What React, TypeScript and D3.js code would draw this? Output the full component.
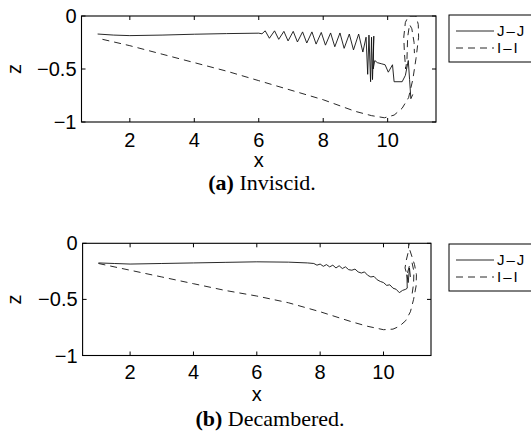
import React from "react";
import * as d3 from "d3";

type Pt = [number, number];

const xTicks = [2, 4, 6, 8, 10];
const yTicks = [0, -0.5, -1];
const yTickLabels = ["0", "−0.5", "−1"];
const seriesNames = ["J–J", "I–I"];
const xDomain: [number, number] = [0.5, 11.5];
const yDomain: [number, number] = [-1, 0];

const inviscidJJ: Pt[] = [
  [1.0, -0.17], [1.5, -0.18], [2.0, -0.185], [3.0, -0.18], [4.0, -0.172], [5.0, -0.166], [6.0, -0.162],
  [6.1, -0.168], [6.2, -0.14], [6.33, -0.21], [6.49, -0.14], [6.62, -0.22], [6.78, -0.145], [6.91, -0.235],
  [7.07, -0.145], [7.2, -0.245], [7.36, -0.15], [7.49, -0.255], [7.65, -0.15], [7.78, -0.265], [7.94, -0.155],
  [8.07, -0.275], [8.23, -0.16], [8.36, -0.29], [8.52, -0.16], [8.65, -0.305], [8.81, -0.17], [8.94, -0.32],
  [9.1, -0.17], [9.23, -0.34], [9.33, -0.2], [9.38, -0.55], [9.42, -0.18], [9.47, -0.62], [9.5, -0.2],
  [9.53, -0.6], [9.57, -0.19], [9.55, -0.5], [9.6, -0.42], [9.68, -0.44], [9.8, -0.45], [9.92, -0.46],
  [10.02, -0.53], [10.15, -0.46], [10.2, -0.62], [10.45, -0.62], [10.55, -0.56], [10.64, -0.42],
  [10.68, -0.6], [10.72, -0.78], [10.78, -0.74],
];

const inviscidII: Pt[] = [
  [1.15, -0.22], [2, -0.28], [3, -0.36], [4, -0.44], [5, -0.52], [6, -0.61], [7, -0.7], [8, -0.79],
  [9, -0.9], [9.5, -0.94], [9.9, -0.96], [10.2, -0.935], [10.45, -0.87], [10.65, -0.77], [10.78, -0.6],
  [10.88, -0.4], [10.96, -0.2], [10.95, -0.08], [10.88, 0.0], [10.65, 0.0], [10.55, -0.06], [10.5, -0.2],
  [10.52, -0.35], [10.56, -0.5], [10.6, -0.4], [10.62, -0.2], [10.68, -0.08], [10.75, -0.12],
  [10.82, -0.25], [10.83, -0.35],
];

const decamberedJJ: Pt[] = [
  [1.0, -0.175], [1.5, -0.18], [2.0, -0.185], [3.0, -0.18], [4.0, -0.175], [5.0, -0.17], [6.0, -0.165],
  [7.0, -0.168], [7.6, -0.175], [7.8, -0.18], [7.9, -0.195], [8.0, -0.185], [8.1, -0.205], [8.2, -0.19],
  [8.3, -0.21], [8.4, -0.195], [8.5, -0.22], [8.6, -0.2], [8.7, -0.225], [8.8, -0.21], [8.9, -0.235],
  [9.0, -0.24], [9.1, -0.23], [9.2, -0.255], [9.3, -0.265], [9.4, -0.255], [9.5, -0.285], [9.6, -0.3],
  [9.7, -0.295], [9.8, -0.325], [9.9, -0.34], [10.0, -0.35], [10.1, -0.375], [10.2, -0.37], [10.3, -0.4],
  [10.4, -0.41], [10.5, -0.44], [10.6, -0.42], [10.7, -0.41], [10.75, -0.4], [10.74, -0.28],
  [10.78, -0.35], [10.82, -0.22], [10.85, -0.3],
];

const decamberedII: Pt[] = [
  [1.0, -0.18], [2, -0.24], [3, -0.3], [4, -0.36], [5, -0.42], [6, -0.47], [7, -0.53], [8, -0.61],
  [9, -0.7], [9.5, -0.74], [10, -0.77], [10.3, -0.765], [10.5, -0.74], [10.7, -0.69], [10.85, -0.61],
  [10.95, -0.5], [11.03, -0.38], [11.04, -0.28], [10.98, -0.19], [10.9, -0.12], [10.82, -0.05],
  [10.8, 0.0], [10.78, -0.08], [10.72, -0.15], [10.68, -0.22], [10.74, -0.28], [10.82, -0.2],
  [10.9, -0.17], [10.96, -0.25], [10.95, -0.36], [10.9, -0.46],
];

const SANS = "'Liberation Sans', Arial, Helvetica, sans-serif";
const SERIF = "'Liberation Serif', 'Times New Roman', serif";

type PanelProps = {
  id: string;
  left: number; right: number; top: number; bottom: number;
  jj: Pt[]; ii: Pt[];
  legendY: number;
  xLabelY: number;
  tickLabelY: number;
  captionY: number; captionX: number;
  captionBold: string; captionText: string;
};

function Panel(p: PanelProps) {
  const x = d3.scaleLinear().domain(xDomain).range([p.left, p.right]);
  const y = d3.scaleLinear().domain(yDomain).range([p.bottom, p.top]);
  const line = d3.line<Pt>().x((d) => x(d[0])).y((d) => y(d[1]));
  const tl = 4;
  const lx = 449;
  const lh = 47;
  return (
    <g>
      <defs>
        <clipPath id={p.id}>
          <rect x={p.left} y={p.top} width={p.right - p.left} height={p.bottom - p.top} />
        </clipPath>
      </defs>
      <g clipPath={`url(#${p.id})`}>
        <path d={line(p.jj) || ""} fill="none" stroke="#111" strokeWidth={0.9} />
        <path d={line(p.ii) || ""} fill="none" stroke="#111" strokeWidth={0.9} strokeDasharray="7 5" />
      </g>
      <rect x={p.left} y={p.top} width={p.right - p.left} height={p.bottom - p.top} fill="none" stroke="#000" strokeWidth={1.1} />
      {xTicks.map((t) => (
        <g key={"x" + t}>
          <line x1={x(t)} x2={x(t)} y1={p.bottom} y2={p.bottom - tl} stroke="#000" />
          <line x1={x(t)} x2={x(t)} y1={p.top} y2={p.top + tl} stroke="#000" />
          <text x={x(t)} y={p.tickLabelY} textAnchor="middle" fontFamily={SANS} fontSize={20}>{t}</text>
        </g>
      ))}
      {yTicks.map((t, i) => (
        <g key={"y" + t}>
          <line x1={p.left} x2={p.left + tl} y1={y(t)} y2={y(t)} stroke="#000" />
          <line x1={p.right} x2={p.right - tl} y1={y(t)} y2={y(t)} stroke="#000" />
          <text x={p.left - 5} y={y(t) + 7} textAnchor="end" fontFamily={SANS} fontSize={20}>{yTickLabels[i]}</text>
        </g>
      ))}
      <text x={(p.left + p.right) / 2} y={p.xLabelY} textAnchor="middle" fontFamily={SANS} fontSize={20}>x</text>
      <text transform={`translate(${21},${y(-0.5)}) rotate(-90)`} textAnchor="middle" fontFamily={SANS} fontSize={20}>z</text>
      <text x={p.captionX} y={p.captionY} textAnchor="middle" fontFamily={SERIF} fontSize={22}>
        <tspan fontWeight="bold">{p.captionBold}</tspan>
        <tspan>{" " + p.captionText}</tspan>
      </text>
      <rect x={lx} y={p.legendY} width={110} height={lh} fill="#fff" stroke="#000" strokeWidth={1} />
      {seriesNames.map((s, i) => {
        const ry = p.legendY + 16 + i * 17;
        return (
          <g key={s}>
            <line x1={456} x2={494} y1={ry} y2={ry} stroke="#111" strokeWidth={0.9} strokeDasharray={i === 1 ? "7 5" : undefined} />
            <text x={497} y={ry + 5} fontFamily={SANS} fontSize={15} letterSpacing={2}>{s}</text>
          </g>
        );
      })}
    </g>
  );
}

export default function App() {
  return (
    <svg width={531} height={436} style={{ position: "absolute", left: 0, top: 0, background: "#fff" }}>
      <Panel id="clipA" left={81.5} right={436} top={16} bottom={122} jj={inviscidJJ} ii={inviscidII}
        legendY={15} xLabelY={167} tickLabelY={147} captionY={190} captionX={262}
        captionBold="(a)" captionText="Inviscid." />
      <Panel id="clipB" left={82.6} right={431} top={243.3} bottom={355.5} jj={decamberedJJ} ii={decamberedII}
        legendY={244} xLabelY={401} tickLabelY={379} captionY={426} captionX={270}
        captionBold="(b)" captionText="Decambered." />
    </svg>
  );
}
